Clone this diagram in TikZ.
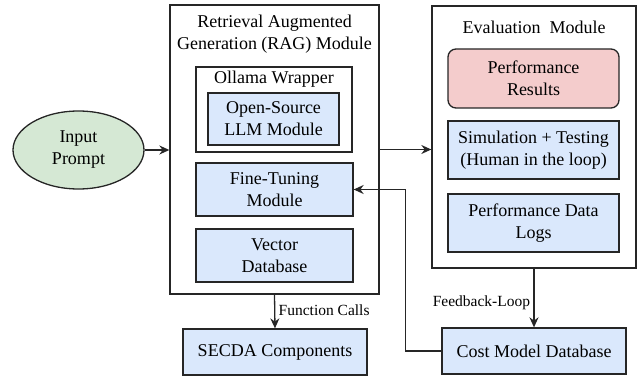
\documentclass[tikz,border=0pt]{standalone}
\usepackage{fontspec}
\setmainfont{Liberation Serif}
\usetikzlibrary{arrows.meta,shapes.geometric}
\definecolor{boxblue}{HTML}{DAE8FC}
\definecolor{boxgreen}{HTML}{D5E8D4}
\definecolor{boxred}{HTML}{F4CCCC}
\definecolor{edge}{HTML}{262626}
\begin{document}
\begin{tikzpicture}[x=1pt,y=-1pt,
 every node/.style={font=\fontsize{18}{22}\selectfont,align=center},
 outer/.style={draw=edge,line width=1.3pt,inner sep=0pt},
 block/.style={outer,fill=boxblue},
 arr/.style={-{Stealth[length=10pt,width=9pt]},line width=1.3pt,draw=edge},
 lbl/.style={font=\fontsize{15.5}{18}\selectfont}]
 \useasboundingbox (0,0) rectangle (640,377);
 % RAG side
 \node[outer,minimum width=209pt,minimum height=289pt] (rag) at (274.5,149.5) {};
 \node (ragtitle) at (274.5,34) {Retrieval Augmented\\Generation (RAG) Module};
 \node[outer,minimum width=156pt,minimum height=85pt] (ollama) at (274,109.5) {};
 \node (ollamatitle) at (274,79) {Ollama Wrapper};
 \node[block,minimum width=131pt,minimum height=52pt] (llm) at (273.5,119) {Open-Source\\LLM Module};
 \node[block,minimum width=157pt,minimum height=53pt] (finetune) at (274.5,189.5) {Fine-Tuning\\Module};
 \node[block,minimum width=157pt,minimum height=53pt] (vectordb) at (274.5,255.5) {Vector\\Database};
 \node[block,minimum width=184pt,minimum height=46pt] (secda) at (275,352) {SECDA Components};
 \node[ellipse,outer,fill=boxgreen,minimum width=131pt,minimum height=78pt] (prompt) at (78.5,150) {Input\\Prompt};
 % evaluation side
 \node[outer,minimum width=204pt,minimum height=262pt] (eval) at (534,137) {};
 \node (evaltitle) at (534,27) {Evaluation\ \ Module};
 \node[outer,fill=boxred,rounded corners=8pt,minimum width=171pt,minimum height=59pt] (results) at (533.5,78.5) {Performance\\Results};
 \node[block,minimum width=171pt,minimum height=58pt] (simtest) at (533.5,150) {Simulation + Testing\\(Human in the loop)};
 \node[block,minimum width=171pt,minimum height=58pt] (perflogs) at (533.5,223) {Performance Data\\Logs};
 \node[block,minimum width=184pt,minimum height=46pt] (costdb) at (534,351) {Cost Model Database};
 % connectors
 \draw[arr] (prompt.east) -- (prompt.east -| rag.west);
 \draw[arr] (rag.east) -- (rag.east -| eval.west);
 \draw[arr] (rag.south) -- (secda.north) node[lbl,pos=0.45,right] {Function Calls};
 \draw[arr] (eval.south) -- (costdb.north) node[lbl,pos=0.58,left] {Feedback-Loop};
 \draw[arr] (costdb.west) -- ++(-36,0) |- (finetune.east);
\end{tikzpicture}
\end{document}
